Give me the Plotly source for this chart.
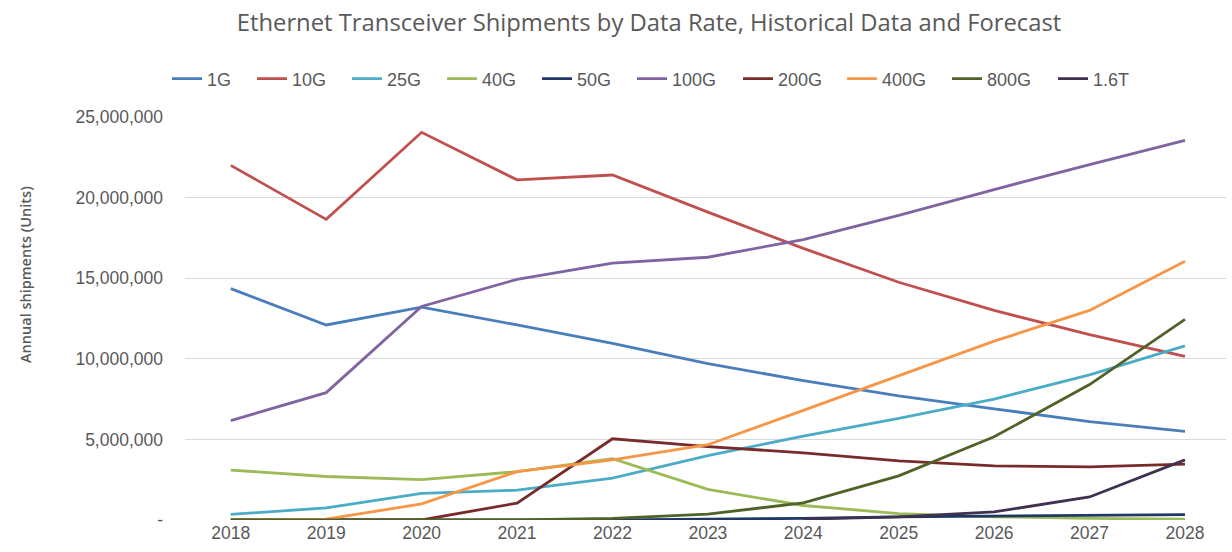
import plotly.graph_objects as go

years = [2018, 2019, 2020, 2021, 2022, 2023, 2024, 2025, 2026, 2027, 2028]

s_1g = [14.35, 12.1, 13.2, 12.1, 10.95, 9.7, 8.65, 7.7, 6.9, 6.1, 5.5]
s_10g = [22.0, 18.65, 24.05, 21.1, 21.4, 19.1, 16.85, 14.75, 13.0, 11.5, 10.15]
s_25g = [0.35, 0.75, 1.65, 1.85, 2.6, 4.0, 5.2, 6.3, 7.5, 9.0, 10.8]
s_40g = [3.1, 2.7, 2.5, 3.0, 3.8, 1.9, 0.9, 0.4, 0.2, 0.1, 0.05]
s_50g = [0.0, 0.0, 0.0, 0.0, 0.0, 0.05, 0.1, 0.2, 0.25, 0.3, 0.33]
s_100g = [6.17, 7.9, 13.25, 14.93, 15.93, 16.3, 17.4, 18.9, 20.5, 22.05, 23.55]
s_200g = [0.0, 0.0, 0.0, 1.05, 5.04, 4.55, 4.17, 3.67, 3.36, 3.3, 3.47]
s_400g = [0.0, 0.05, 1.0, 3.0, 3.73, 4.67, 6.8, 8.96, 11.1, 13.0, 16.05]
s_800g = [0.0, 0.0, 0.0, 0.0, 0.1, 0.37, 1.06, 2.74, 5.16, 8.4, 12.45]
s_16t = [None, None, None, None, None, None, 0.05, 0.2, 0.5, 1.43, 3.73]

series_names = ["1G", "10G", "25G", "40G", "50G", "100G", "200G", "400G", "800G", "1.6T"]
series_values = [s_1g, s_10g, s_25g, s_40g, s_50g, s_100g, s_200g, s_400g, s_800g, s_16t]
colors = ["#4a7ebb", "#c0504d", "#4bacc6", "#9bbb59", "#1f3864",
          "#8064a2", "#772c2a", "#f79646", "#4f6228", "#3f3151"]

y_tickvals = [0, 5e6, 10e6, 15e6, 20e6, 25e6]
y_ticktext = ["-", "5,000,000", "10,000,000", "15,000,000", "20,000,000", "25,000,000"]

# page body margin is removed (post_script), so the figure fills the window
W, H = 1232, 552
ML, MR, MT, MB = 185, 6, 117, 32
PW = W - ML - MR
PH = H - MT - MB

def px_x(X):  # window x -> paper x
    return (X - ML) / PW

def px_y(Y):  # window y -> paper y
    return (H - MB - Y) / PH

legend_line_starts = [172, 257, 352, 447, 542, 637, 743, 847, 952, 1058]
legend_font = dict(family="Liberation Sans, Arial", size=18, color="#595959")

fig = go.Figure()
layout_legends = {}
for i, (name, vals, col) in enumerate(zip(series_names, series_values, colors)):
    lg = "legend" if i == 0 else f"legend{i + 1}"
    fig.add_trace(go.Scatter(
        x=years,
        y=[None if v is None else v * 1e6 for v in vals],
        name=name, mode="lines",
        line=dict(color=col, width=2.8),
        legend=lg,
    ))
    layout_legends[lg] = dict(
        orientation="h", x=px_x(legend_line_starts[i] - 5), xanchor="left",
        y=px_y(79), yanchor="middle", font=legend_font,
        itemwidth=30, bgcolor="rgba(0,0,0,0)",
    )

fig.update_layout(
    width=W, height=H,
    margin=dict(l=ML, r=MR, t=MT, b=MB),
    paper_bgcolor="white", plot_bgcolor="white",
    font=dict(family="Liberation Sans, Arial", size=17.5, color="#595959"),
    title=dict(
        text="Ethernet Transceiver Shipments by Data Rate, Historical Data and Forecast",
        x=649 / W, xanchor="center", y=1 - 23 / H, yanchor="middle",
        font=dict(family="Open Sans", size=23.8, color="#595959"),
    ),
    showlegend=True,
    xaxis=dict(
        range=[2017.52, 2028.43], tickvals=years, ticktext=[str(y) for y in years],
        showgrid=False, zeroline=False, showline=False, ticks="",
        tickfont=dict(size=17.5, color="#595959"),
    ),
    yaxis=dict(
        range=[0, 25e6], tickvals=y_tickvals, ticktext=y_ticktext,
        showgrid=True, gridcolor="#d9d9d9", gridwidth=1.2,
        zeroline=False, showline=False, ticks="",
        ticklabelstandoff=21,
        tickfont=dict(size=17.5, color="#595959"),
    ),
    annotations=[dict(
        text="Annual shipments (Units)", textangle=-90,
        xref="paper", yref="paper", x=px_x(25), y=px_y(275),
        xanchor="center", yanchor="middle", showarrow=False,
        font=dict(family="Open Sans", size=14.5, color="#595959", weight=600),
    )],
    **layout_legends,
)

fig.write_html(
    "out.html",
    config={"displayModeBar": False},
    post_script="document.body.style.margin='0px';",
)
